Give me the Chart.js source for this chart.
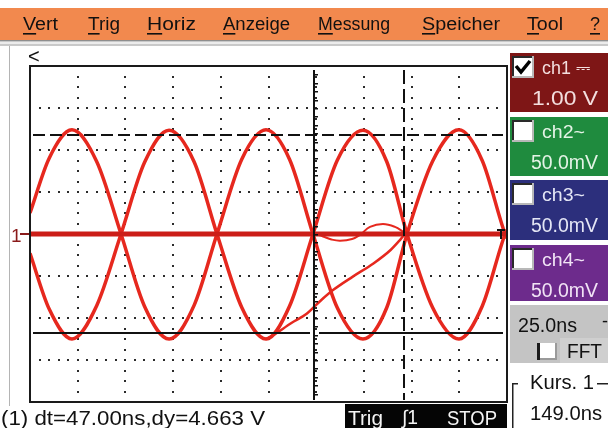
<!DOCTYPE html>
<html><head><meta charset="utf-8">
<script src="https://cdn.jsdelivr.net/npm/chart.js@4/dist/chart.umd.min.js"></script>
<style>html,body{margin:0;padding:0;background:#fff;overflow:hidden}canvas{display:block}</style>
</head><body>
<canvas id="c" width="608" height="428"></canvas>
<script>
// ---- data (time in ns, voltage in V) ----
const menuItems = ["Vert", "Trig", "Horiz", "Anzeige", "Messung", "Speicher", "Tool", "?"];
const timeNs  = [0, 10, 22, 35, 47.7, 60, 72.9, 86, 98, 111, 123.7, 136, 148.3, 161, 174.5, 187, 197.6, 211, 224.8, 237, 249, 250];
const traceA  = [0.5, 1.8, 2.48, 1.72, 0, -1.72, -2.5, -1.7, 0, 1.78, 2.48, 1.78, 0, -1.75, -2.5, -1.75, 0, 1.73, 2.48, 1.75, 0, -0.1];
const traceB  = [-0.46, -1.78, -2.5, -1.7, 0, 1.7, 2.47, 1.72, 0, -1.75, -2.5, -1.72, 0, 1.75, 2.47, 1.72, 0, -1.75, -2.5, -1.72, 0, 0.1];
const transientNs = [123.5, 126, 137, 145, 152, 159, 169, 180, 189, 194, 197, 220, 250];
const transientV  = [-2.5, -2.45, -2.12, -1.9, -1.6, -1.33, -1.02, -0.7, -0.38, -0.14, 0, 0.02, 0];
const rippleNs = [149.4, 153.6, 158, 162.5, 168.8, 173, 178.2, 185, 191.3, 196];
const rippleV  = [0, -0.06, -0.13, -0.16, -0.12, -0.02, 0.17, 0.24, 0.17, 0.04];
const baselineNs = [0, 250];
const baselineV  = [0, 0];
const cursorNs = [149.0, 196.0];
const cursorV  = [2.36, -2.36];
const channelNames  = ["ch1 \u2393", "ch2~", "ch3~", "ch4~"];
const channelScales = ["1.00 V", "50.0mV", "50.0mV", "50.0mV"];
const timebase = "25.0ns";
const cursorLabel = "Kurs. 1";
const cursorValue = "149.0ns";
const readout = "(1) dt=47.00ns,dy=4.663 V";
const statusItems = ["Trig", "\u222B1", "STOP"];

const pts = (xs, ys) => xs.map((x, i) => ({x: x, y: ys[i]}));
const FONT = '"Liberation Sans", Arial, sans-serif';

function txt(ctx, s, x, y, size, color, w) {
  ctx.save();
  ctx.font = size + 'px ' + FONT;
  ctx.fillStyle = color;
  ctx.textBaseline = 'alphabetic';
  ctx.translate(x, y);
  if (w) { const m = ctx.measureText(s).width; ctx.scale(w / m, 1); }
  ctx.fillText(s, 0, 0);
  ctx.restore();
}
function checkbox(ctx, x, y, w, h, checked) {
  ctx.fillStyle = '#fff'; ctx.fillRect(x, y, w, h);
  ctx.fillStyle = '#2a2a2a'; ctx.fillRect(x, y, w, 2); ctx.fillRect(x, y, 2, h);
  ctx.fillStyle = '#b8b8b8'; ctx.fillRect(x, y + h - 2, w, 2); ctx.fillRect(x + w - 2, y, 2, h);
  if (checked) {
    ctx.save(); ctx.strokeStyle = '#000'; ctx.lineWidth = 3.5; ctx.lineJoin = 'miter';
    ctx.beginPath(); ctx.moveTo(x + 4, y + 10); ctx.lineTo(x + 9, y + 16); ctx.lineTo(x + 18, y + 5); ctx.stroke(); ctx.restore();
  }
}

const frame = {
  id: 'frame',
  beforeDraw(chart) {
    const ctx = chart.ctx;
    ctx.save();
    ctx.fillStyle = '#fff'; ctx.fillRect(0, 0, 608, 428);
    // menu bar
    ctx.fillStyle = '#F2894E'; ctx.fillRect(0, 8, 608, 32);
    ctx.fillStyle = '#c9c9c9'; ctx.fillRect(0, 40, 608, 6);
    ctx.fillStyle = '#8e8e8e'; ctx.fillRect(0, 40, 608, 1);
    ctx.fillStyle = '#ececec'; ctx.fillRect(0, 42, 608, 2);
    const mx = [23, 88, 147, 223, 318, 422, 527, 590];
    const mw = [35, 32, 49, 67, 72, 78, 36, 10];
    menuItems.forEach((s, i) => {
      txt(ctx, s, mx[i], 30, 18, '#111', mw[i]);
      ctx.font = '18px ' + FONT;
      const fw = ctx.measureText(s[0]).width * mw[i] / ctx.measureText(s).width;
      ctx.fillStyle = '#111'; ctx.fillRect(mx[i], 33, fw, 1.6);
    });
    // window left edge
    ctx.fillStyle = '#b4b4b4'; ctx.fillRect(9, 46, 1, 360);
    // "<" marker
    txt(ctx, '<', 28, 63, 20, '#111');
    // channel boxes
    const boxY = [53, 117, 180, 245], boxH = [59, 59, 60, 56];
    const boxC = ['#7E1616', '#1F8B3E', '#2C2F7C', '#6D2B8C'];
    const txtC = ['#F3DEDE', '#E4F3E6', '#E4E6F5', '#F1E3F5'];
    channelNames.forEach((s, i) => {
      ctx.fillStyle = boxC[i]; ctx.fillRect(510, boxY[i], 98, boxH[i]);
      checkbox(ctx, 512, boxY[i] + 3, 22, 22, i === 0);
      txt(ctx, s, 542, boxY[i] + 21, 19, txtC[i], i === 0 ? 48 : 43);
      txt(ctx, channelScales[i], i === 0 ? 532 : 531, boxY[i] + 52, 20, txtC[i], i === 0 ? 66 : 67);
    });
    // timebase / FFT box
    ctx.fillStyle = '#C4C4C4'; ctx.fillRect(510, 305, 98, 58);
    ctx.fillStyle = '#cfcfcf'; ctx.fillRect(560, 338, 48, 25);
    txt(ctx, timebase, 518, 332, 19.5, '#111', 59);
    txt(ctx, '-', 602, 327, 18, '#111');
    ctx.fillStyle = '#1a1a1a'; ctx.fillRect(537, 343, 3, 17);
    ctx.fillStyle = '#fff'; ctx.fillRect(540, 343, 17, 17);
    ctx.fillStyle = '#9a9a9a'; ctx.fillRect(540, 358, 17, 2); ctx.fillRect(555, 343, 2, 17);
    txt(ctx, 'FFT', 567, 358, 19.5, '#111', 35);
    // cursor group box
    ctx.fillStyle = '#222';
    ctx.fillRect(512, 383, 1.5, 45); ctx.fillRect(512, 383, 6, 1.5); ctx.fillRect(597, 383, 11, 1.5);
    txt(ctx, cursorLabel, 530, 389, 19.5, '#111', 64);
    txt(ctx, cursorValue, 530, 420, 19.5, '#111', 72);
    // readout
    txt(ctx, readout, 1, 425, 19.5, '#111', 264);
    // status bar
    ctx.fillStyle = '#050505'; ctx.fillRect(345, 404, 162, 24);
    txt(ctx, statusItems[0], 348, 425, 19.5, '#f4f4f4', 35);
    txt(ctx, statusItems[1], 402, 424, 19.5, '#f4f4f4', 16);
    txt(ctx, statusItems[2], 447, 425, 19.5, '#f4f4f4', 50);
    ctx.restore();
  },
  beforeDatasetsDraw(chart) {
    const ctx = chart.ctx, xs = chart.scales.x, ys = chart.scales.y;
    ctx.save();
    ctx.fillStyle = '#2b2b2b';
    for (let t = 25; t < 250; t += 25) {
      const px = Math.round(xs.getPixelForValue(t));
      for (let v = -3.75; v < 4; v += 0.25) {
        const py = Math.round(ys.getPixelForValue(v));
        ctx.fillRect(px - 1, py - 1, 2, 2);
      }
    }
    for (let v = -3; v <= 3; v += 1) {
      const py = Math.round(ys.getPixelForValue(v));
      for (let t = 5; t < 250; t += 5) {
        const px = Math.round(xs.getPixelForValue(t));
        ctx.fillRect(px - 1, py - 1, 2, 2);
      }
    }
    ctx.restore();
  },
  afterDatasetsDraw(chart) {
    const ctx = chart.ctx, xs = chart.scales.x, ys = chart.scales.y, a = chart.chartArea;
    ctx.save();
    // frame
    ctx.strokeStyle = '#1a1a1a'; ctx.lineWidth = 2;
    ctx.strokeRect(a.left, a.top, a.right - a.left, a.bottom - a.top);
    ctx.strokeStyle = '#111';
    const c1 = Math.round(xs.getPixelForValue(cursorNs[0]));
    const c2 = Math.round(xs.getPixelForValue(cursorNs[1]));
    const h1 = Math.round(ys.getPixelForValue(cursorV[0]));
    const h2 = Math.round(ys.getPixelForValue(cursorV[1]));
    // horizontal dashed cursor
    ctx.lineWidth = 2; ctx.setLineDash([12, 5]);
    ctx.beginPath(); ctx.moveTo(a.left + 3, h1); ctx.lineTo(a.right - 4, h1); ctx.stroke();
    // horizontal solid cursor (with gap at vertical cursor)
    ctx.setLineDash([]);
    ctx.beginPath(); ctx.moveTo(a.left + 3, h2); ctx.lineTo(c1 - 4, h2);
    ctx.moveTo(c1 + 5, h2); ctx.lineTo(a.right - 4, h2); ctx.stroke();
    // vertical solid cursor with ticks
    ctx.beginPath(); ctx.moveTo(c1, a.top + 4); ctx.lineTo(c1, a.bottom - 2); ctx.stroke();
    ctx.fillStyle = '#111';
    for (let v = -3.8; v < 4; v += 0.2) {
      const py = Math.round(ys.getPixelForValue(v));
      ctx.fillRect(c1 + 1, py, 3, 1.5);
    }
    // vertical dashed cursor
    ctx.setLineDash([14, 5]);
    ctx.beginPath(); ctx.moveTo(c2, a.top + 4); ctx.lineTo(c2, a.bottom - 2); ctx.stroke();
    ctx.setLineDash([]);
    // ground marker "1 -" and trigger marker
    const g = ys.getPixelForValue(0);
    txt(ctx, '1', 11, g + 8, 19, '#8a1a1a');
    ctx.fillStyle = '#8a1a1a'; ctx.fillRect(20, g - 1, 9, 2);
    ctx.fillStyle = '#111';
    ctx.fillRect(a.right - 10, g - 5, 8, 2); ctx.fillRect(a.right - 7, g - 5, 2, 10);
    ctx.restore();
  }
};

const red = '#E6281E';
new Chart(document.getElementById('c'), {
  type: 'line',
  data: {
    datasets: [
      {data: pts(baselineNs, baselineV), borderColor: '#CC1E18', borderWidth: 5, pointRadius: 0, order: 0},
      {data: pts(timeNs, traceA), borderColor: red, borderWidth: 3.5, pointRadius: 0, cubicInterpolationMode: 'monotone', order: 2},
      {data: pts(timeNs, traceB), borderColor: red, borderWidth: 3.5, pointRadius: 0, cubicInterpolationMode: 'monotone', order: 2},
      {data: pts(transientNs, transientV), borderColor: red, borderWidth: 2.5, pointRadius: 0, cubicInterpolationMode: 'monotone', order: 1},
      {data: pts(rippleNs, rippleV), borderColor: red, borderWidth: 2, pointRadius: 0, tension: 0.4, order: 1}
    ]
  },
  options: {
    responsive: false, animation: false, devicePixelRatio: 1,
    layout: {padding: {left: 30, top: 66, right: 101, bottom: 26}},
    plugins: {legend: {display: false}, tooltip: {enabled: false}},
    scales: {
      x: {type: 'linear', min: 0, max: 250, display: false},
      y: {type: 'linear', min: -4, max: 4, display: false}
    }
  },
  plugins: [frame]
});
</script>
</body></html>
